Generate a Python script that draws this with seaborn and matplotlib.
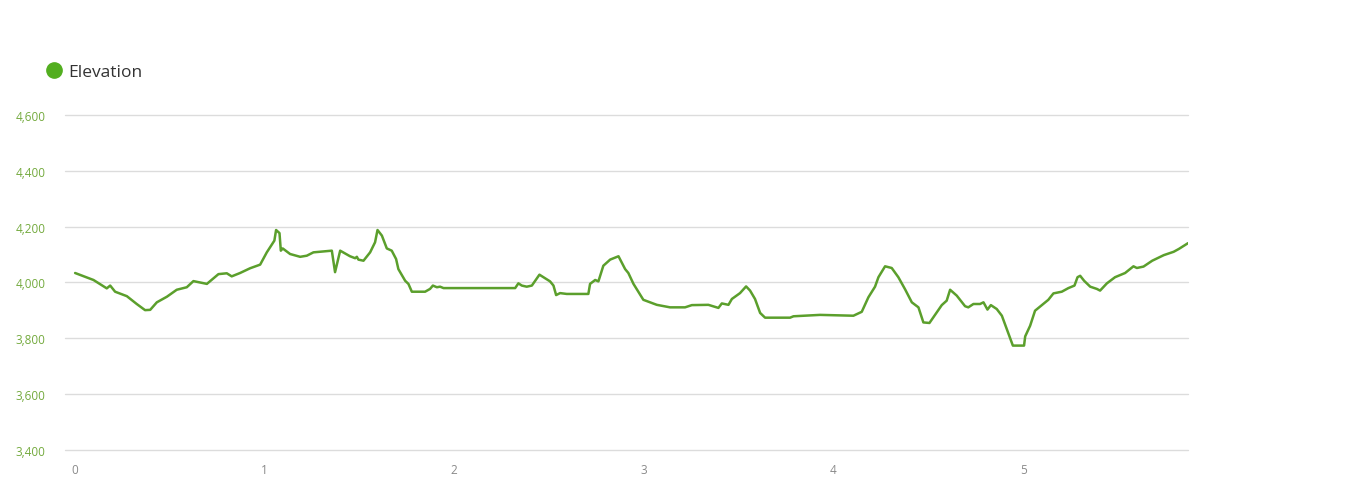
import matplotlib
matplotlib.use("Agg")
import matplotlib.pyplot as plt
from matplotlib.lines import Line2D
from matplotlib.ticker import FuncFormatter
import pandas as pd
import seaborn as sns

# distance along the track and elevation
distance = [
    0.000, 0.097, 0.167, 0.185, 0.211, 0.273, 0.325, 0.369, 0.396, 0.431,
    0.484, 0.536, 0.589, 0.624, 0.695, 0.756, 0.800, 0.826, 0.870, 0.923,
    0.976, 1.011, 1.051, 1.060, 1.078, 1.085, 1.095, 1.134, 1.187, 1.222,
    1.257, 1.354, 1.371, 1.398, 1.450, 1.477, 1.486, 1.494, 1.521, 1.556,
    1.582, 1.595, 1.618, 1.644, 1.670, 1.693, 1.705, 1.741, 1.758, 1.776,
    1.846, 1.872, 1.887, 1.908, 1.925, 1.943, 2.321, 2.338, 2.356, 2.382,
    2.409, 2.449, 2.505, 2.523, 2.537, 2.558, 2.593, 2.707, 2.716, 2.743,
    2.760, 2.786, 2.822, 2.866, 2.901, 2.918, 2.945, 2.997, 3.024, 3.068,
    3.138, 3.217, 3.253, 3.340, 3.393, 3.411, 3.446, 3.464, 3.507, 3.539,
    3.560, 3.586, 3.613, 3.639, 3.771, 3.789, 3.929, 4.105, 4.149, 4.184,
    4.219, 4.237, 4.272, 4.307, 4.342, 4.378, 4.413, 4.448, 4.474, 4.506,
    4.545, 4.571, 4.597, 4.615, 4.650, 4.694, 4.711, 4.738, 4.773, 4.791,
    4.812, 4.830, 4.861, 4.888, 4.914, 4.946, 5.005, 5.011, 5.037, 5.063,
    5.099, 5.133, 5.160, 5.204, 5.239, 5.271, 5.287, 5.301, 5.322, 5.354,
    5.389, 5.406, 5.442, 5.485, 5.538, 5.582, 5.600, 5.635, 5.681, 5.742,
    5.794, 5.821, 5.870,
]
elevation = [
    4034, 4009, 3979, 3989, 3967, 3951, 3923, 3901, 3902, 3929,
    3949, 3974, 3983, 4005, 3995, 4030, 4033, 4022, 4034, 4051,
    4064, 4108, 4150, 4188, 4177, 4114, 4122, 4102, 4092, 4096,
    4108, 4114, 4037, 4114, 4094, 4087, 4092, 4082, 4078, 4108,
    4144, 4188, 4168, 4122, 4114, 4084, 4048, 4006, 3995, 3967,
    3967, 3977, 3989, 3983, 3985, 3980, 3980, 3997, 3989, 3985,
    3989, 4028, 4004, 3989, 3955, 3962, 3959, 3959, 3995, 4009,
    4004, 4060, 4082, 4094, 4048, 4034, 3995, 3938, 3931, 3920,
    3911, 3911, 3919, 3920, 3909, 3925, 3920, 3941, 3962, 3986,
    3971, 3941, 3891, 3874, 3874, 3879, 3884, 3881, 3895, 3947,
    3985, 4019, 4058, 4052, 4019, 3975, 3929, 3911, 3857, 3855,
    3893, 3919, 3935, 3974, 3953, 3915, 3911, 3923, 3923, 3929,
    3903, 3919, 3905, 3881, 3833, 3774, 3774, 3807, 3845, 3899,
    3919, 3938, 3961, 3967, 3980, 3989, 4019, 4024, 4006, 3985,
    3977, 3971, 3997, 4019, 4034, 4058, 4052, 4057, 4078, 4098,
    4110, 4120, 4141,
]
y_ticks = [3400, 3600, 3800, 4000, 4200, 4400, 4600]
x_ticks = [0, 1, 2, 3, 4, 5]

LINE_COLOR = "#5b9f2c"
DOT_COLOR = "#52ae1f"
YLABEL_COLOR = "#74aa3e"

sns.set_style("white")
plt.rcParams["font.family"] = ["Open Sans", "DejaVu Sans"]

df = pd.DataFrame({"distance": distance, "elevation": elevation})

fig = plt.figure(figsize=(13.47, 4.89), dpi=100)
ax = fig.add_axes([0.0483, 0.0777, 0.8337, 0.6851])
sns.lineplot(data=df, x="distance", y="elevation", color=LINE_COLOR,
             linewidth=1.8, ax=ax, zorder=3)

ax.set_xlim(-0.053, 5.87)
ax.set_ylim(3400, 4600)
ax.set_yticks(y_ticks)
ax.set_xticks(x_ticks)
ax.yaxis.set_major_formatter(FuncFormatter(lambda v, _: f"{int(v):,}"))
ax.grid(axis="y", color="#dcdcdc", linewidth=1)
ax.grid(axis="x", visible=False)
for gl in ax.get_ygridlines():
    gl.set_clip_on(False)
for s in ax.spines.values():
    s.set_visible(False)
ax.tick_params(axis="y", length=0, pad=14, labelsize=8.5, labelcolor=YLABEL_COLOR)
ax.tick_params(axis="x", length=0, pad=9, labelsize=8.5, labelcolor="#8a8a8a")
ax.set_xlabel("")
ax.set_ylabel("")

handle = Line2D([], [], marker="o", linestyle="none", markersize=11,
                markerfacecolor=DOT_COLOR, markeredgecolor=DOT_COLOR)
fig.legend([handle], ["Elevation"], loc="center left",
           bbox_to_anchor=(0.022, 0.850), frameon=False, fontsize=12.5,
           handlelength=1.0, handletextpad=0.3, labelcolor="#333333")

fig.savefig("out.png", dpi=100)
plt.close(fig)
